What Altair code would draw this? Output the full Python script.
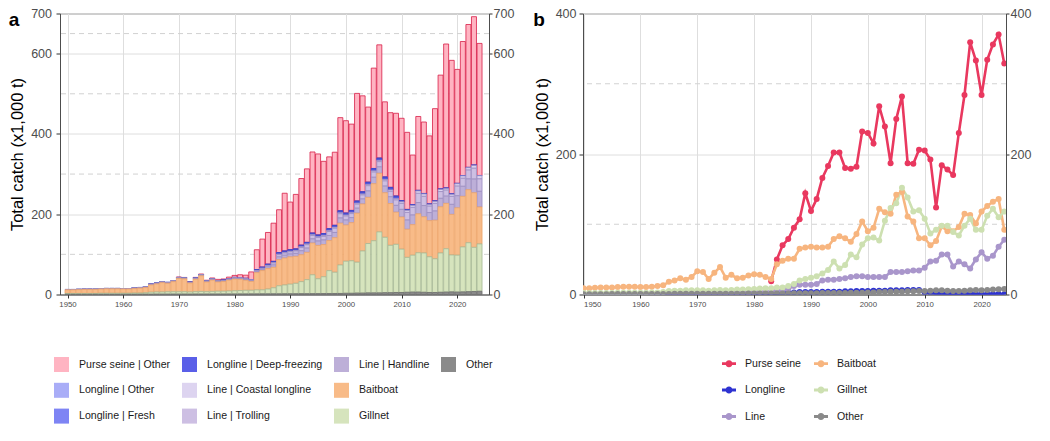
import altair as alt
import pandas as pd

years = list(range(1950, 2025))

# ---- catch by gear (x1,000 t), 1950..2024 ----
purse_seine_other = [
    0, 0, 0, 0, 0, 0, 0, 0, 0, 0,
    0, 0, 0, 0, 0, 0, 0, 0, 0, 0,
    1, 1, 1, 1.5, 1.5, 1.5, 2, 3, 3, 4,
    5, 7, 8, 19, 50, 70, 79, 95, 107, 144,
    119, 136, 166, 183, 202, 202, 180, 179, 182, 232,
    230, 215, 268, 239, 187, 250, 282, 187, 186, 206,
    205, 192, 124, 184, 178, 170, 230, 284, 359, 333,
    284, 334, 356, 370, 329]
longline_other = [
    0, 0, 0, 0, 0, 0, 0, 0, 0, 0,
    0.03, 0.03, 0.03, 0.03, 0.03, 0.03, 0.03, 0.03, 0.03, 0.03,
    0.08, 0.08, 0.08, 0.08, 0.08, 0.08, 0.08, 0.08, 0.08, 0.08,
    0.12, 0.12, 0.12, 0.12, 0.3, 0.35, 0.45, 0.45, 0.5, 0.5,
    0.5, 0.5, 0.6, 0.6, 0.6, 0.6, 0.65, 0.65, 0.75, 0.75,
    0.75, 0.8, 0.8, 0.8, 0.9, 0.9, 0.9, 0.95, 0.95, 0.95,
    0.45, 0.35, 0.25, 0.25, 0.2, 0.2, 0.15, 0.15, 0.15, 0.12,
    0.12, 0.12, 0.1, 0.1, 0.08]
longline_fresh = [
    0, 0, 0, 0, 0, 0, 0, 0, 0, 0,
    0.02, 0.02, 0.02, 0.02, 0.02, 0.02, 0.02, 0.02, 0.02, 0.02,
    0.06, 0.06, 0.06, 0.06, 0.06, 0.06, 0.06, 0.06, 0.06, 0.06,
    0.1, 0.1, 0.1, 0.1, 0.25, 0.3, 0.4, 0.4, 0.45, 0.45,
    0.45, 0.45, 0.5, 0.55, 0.55, 0.55, 0.6, 0.6, 0.7, 0.7,
    0.7, 0.75, 0.75, 0.75, 0.85, 0.85, 0.85, 0.9, 0.9, 0.9,
    0.4, 0.3, 0.2, 0.2, 0.18, 0.18, 0.14, 0.14, 0.14, 0.1,
    0.1, 0.1, 0.08, 0.08, 0.06]
longline_deep_freezing = [
    0.1, 0.1, 0.1, 0.1, 0.1, 0.1, 0.1, 0.1, 0.1, 0.1,
    0.15, 0.15, 0.15, 0.15, 0.15, 0.15, 0.15, 0.15, 0.15, 0.15,
    0.35, 0.35, 0.35, 0.35, 0.35, 0.35, 0.35, 0.35, 0.35, 0.35,
    0.55, 0.55, 0.55, 0.55, 1.4, 1.8, 2.1, 2.1, 2.5, 2.5,
    2.5, 2.5, 2.8, 2.8, 2.8, 2.8, 3.2, 3.2, 3.5, 3.5,
    3.5, 3.9, 3.9, 3.9, 4.2, 4.2, 4.2, 4.6, 4.6, 4.6,
    2.1, 1.8, 1, 1, 0.8, 0.8, 0.7, 0.7, 0.7, 0.55,
    0.55, 0.55, 0.4, 0.4, 0.35]
line_coastal_longline = [
    0.1, 0.1, 0.1, 0.1, 0.1, 0.1, 0.1, 0.1, 0.1, 0.1,
    0.1, 0.1, 0.2, 0.2, 0.2, 0.2, 0.2, 0.2, 0.2, 0.2,
    0.2, 0.2, 0.2, 0.3, 0.3, 0.3, 0.3, 0.3, 0.3, 0.3,
    0.3, 0.3, 0.4, 0.4, 0.5, 0.6, 0.8, 1.2, 1.4, 1.4,
    1.4, 1.5, 2, 2, 2, 2, 2.5, 2.5, 2.5, 2.5,
    2.5, 2.5, 2.5, 2.5, 3, 3, 3, 3.5, 3.5, 3.5,
    4, 5, 5, 6, 6, 4, 5, 5, 4, 5,
    6, 6, 6, 7, 8]
line_trolling = [
    0.4, 0.4, 0.4, 0.4, 0.4, 0.4, 0.4, 0.4, 0.4, 0.4,
    0.4, 0.4, 0.5, 0.5, 0.5, 0.8, 0.8, 0.8, 0.8, 0.8,
    0.8, 0.8, 0.8, 1, 1, 1, 1.2, 1.2, 1.2, 1.2,
    1.4, 1.4, 1.6, 1.6, 2, 2.4, 3.2, 4.8, 5.6, 5.6,
    5.6, 6, 8, 8.5, 8.5, 9, 9, 10, 10.5, 10.5,
    10, 10, 10, 10, 13, 13, 13, 13, 13.5, 13.5,
    15, 19, 19, 23, 23, 16, 19, 17, 15, 20,
    24, 20, 22, 27, 31]
line_handline = [
    0.5, 0.5, 0.5, 0.5, 0.5, 0.5, 0.5, 0.5, 0.5, 0.5,
    0.5, 0.5, 0.8, 0.8, 0.8, 1, 1, 1, 1, 1,
    1, 1, 1, 1.2, 1.2, 1.2, 1.5, 1.5, 1.5, 1.5,
    1.8, 1.8, 2, 2, 2.5, 3, 4, 6, 7, 7,
    7, 7.5, 10, 10.5, 10.5, 11, 11.5, 12.5, 13, 13,
    12.5, 12.5, 12.5, 12.5, 16, 16, 16, 16.5, 17, 17,
    19, 23, 24, 28, 28, 20, 23, 21, 18, 25,
    30, 25, 27, 34, 39]
baitboat = [
    9, 9, 9.5, 10, 10, 10, 10.5, 11, 11, 11,
    10.5, 10.5, 11, 12, 13, 18, 20, 23, 21, 25,
    33, 32, 22, 31, 39, 24, 28, 23, 24, 27,
    29, 28, 25, 22, 43, 48, 51, 51, 65, 67,
    68, 67, 67, 68, 79, 83, 80, 75, 86, 104,
    90, 95, 122, 117, 115, 142, 146, 111, 104, 80,
    80, 70, 76, 97, 90, 90, 96, 115, 113, 101,
    118, 126, 132, 136, 92]
gillnet = [
    2, 2, 2, 2, 2, 2, 2.5, 2.5, 2.5, 2.5,
    2.5, 2.5, 3, 3, 3.5, 5, 5.5, 5.5, 6, 6,
    6, 6, 5.5, 6, 6.5, 6, 6.5, 7, 7, 7.5,
    8, 8.5, 9, 9, 10, 10, 12, 15, 20, 22,
    24, 26, 30, 35, 47, 37, 42, 57, 53, 71,
    80, 81, 77, 105, 123, 130, 152, 138, 118, 120,
    108, 87, 92, 98, 98, 89, 84, 98, 108, 92,
    92, 112, 122, 110, 118]
other = [
    0.5, 0.5, 0.5, 0.5, 0.5, 0.6, 0.6, 0.6, 0.6, 0.6,
    0.7, 0.7, 0.7, 0.8, 0.8, 0.8, 0.9, 0.9, 0.9, 1,
    1, 1, 1, 1.1, 1.1, 1.1, 1.2, 1.2, 1.2, 1.3,
    1.3, 1.4, 1.4, 1.5, 1.5, 1.6, 1.6, 1.7, 1.7, 1.8,
    1.8, 1.9, 2, 2, 2.1, 2.2, 2.3, 2.4, 2.5, 2.6,
    3, 3, 3.5, 3.5, 4, 4, 4, 4.5, 4.5, 5,
    5, 5.5, 6, 6, 5.5, 5, 5, 5.5, 6, 6.5,
    6, 6.5, 7, 7.5, 8]

# series: (name, values, gear group, stack rank from bottom)
series = [
    ("Purse seine | Other", purse_seine_other, "Purse seine", 9),
    ("Longline | Other", longline_other, "Longline", 8),
    ("Longline | Fresh", longline_fresh, "Longline", 7),
    ("Longline | Deep-freezing", longline_deep_freezing, "Longline", 6),
    ("Line | Coastal longline", line_coastal_longline, "Line", 5),
    ("Line | Trolling", line_trolling, "Line", 4),
    ("Line | Handline", line_handline, "Line", 3),
    ("Baitboat", baitboat, "Baitboat", 2),
    ("Gillnet", gillnet, "Gillnet", 1),
    ("Other", other, "Other", 0),
]
for name, vals, _, _ in series:
    if len(vals) != len(years):
        raise ValueError(f"{name}: {len(vals)} values")

rows = []
for name, vals, grp, rank in series:
    for yr, v in zip(years, vals):
        rows.append({"year": yr, "series": name, "group": grp, "rank": rank, "catch": v})
df = pd.DataFrame(rows)

fill_colors = {
    "Purse seine | Other": "#FFB4C2", "Longline | Other": "#A9ADF7", "Longline | Fresh": "#7E84F4",
    "Longline | Deep-freezing": "#5A5FE8", "Line | Coastal longline": "#DDD4F0",
    "Line | Trolling": "#CDBFE3", "Line | Handline": "#BDAFD8", "Baitboat": "#F8BB88",
    "Gillnet": "#D6E4BD", "Other": "#8A8A8A", "_blank_": "rgba(0,0,0,0)"}
# legend fills column by column; one empty slot completes the 4 x 3 grid
legend_a_domain = [s[0] for s in series] + ["_blank_"]
legend_a_range = [fill_colors[k] for k in legend_a_domain]

groups = ["Purse seine", "Longline", "Line", "Baitboat", "Gillnet", "Other"]
outline_colors = ["#D81E47", "#4247C9", "#9D8EC2", "#EDA46A", "#A6B894", "#6F6F6F"]
line_colors = ["#E9385F", "#2E33D1", "#A996CB", "#F7B57F", "#CDE0B1", "#8A8A8A"]

decades = [1950, 1960, 1970, 1980, 1990, 2000, 2010, 2020]
ticks_a = [0, 200, 400, 600, 700]
ticks_b = [0, 200, 400]
dashed_a = [100, 300, 500, 650]
dashed_b = [100, 300]

FONT = "Liberation Sans"
H = 281


def x_axis():
    return alt.Axis(values=decades, format="d", title=None, labelFontSize=7.8, labelColor="#4D4D4D",
                    labelPadding=2, tickSize=3.5, tickColor="#333333", domainColor="#4D4D4D",
                    grid=True, gridColor="#DEDEDE", labelFont=FONT)


def left_axis(vals, lab_pad, title_pad):
    return alt.Axis(values=vals, title="Total catch (x1,000 t)", titleFontSize=16.5,
                    titleFontWeight="normal", titleColor="#000000", titlePadding=title_pad,
                    titleFont=FONT, labelFontSize=12.5, labelColor="#4D4D4D", labelPadding=lab_pad,
                    tickSize=4, tickColor="#333333", domainColor="#4D4D4D", grid=True,
                    gridColor="#DEDEDE", labelFont=FONT, labelOverlap=False)


def right_axis(vals):
    return alt.Axis(orient="right", values=vals, title=None, labelFontSize=12.5, labelColor="#4D4D4D",
                    labelPadding=1, tickSize=3, tickColor="#333333", domainColor="#4D4D4D",
                    grid=False, labelFont=FONT, labelOverlap=False)


# ---------------- panel a ----------------
xa = alt.X("year:Q", scale=alt.Scale(domain=[1949.55, 2024.8], nice=False, zero=False), axis=x_axis())
ya_scale = alt.Scale(domain=[0, 700], nice=False)

dash_a = alt.Chart(pd.DataFrame({"v": dashed_a})).mark_rule(
    strokeDash=[5, 4], color="#D2D2D2", strokeWidth=1).encode(
    y=alt.Y("v:Q", scale=ya_scale, axis=right_axis(ticks_a)))

bars = alt.Chart(df).transform_filter("datum.catch > 0").mark_bar(size=5, strokeWidth=0.8).encode(
    x=xa,
    y=alt.Y("catch:Q", stack="zero", scale=ya_scale, axis=left_axis(ticks_a, 4.5, 5)),
    fill=alt.Fill("series:N", scale=alt.Scale(domain=legend_a_domain, range=legend_a_range),
                  legend=alt.Legend(orient="none", legendX=-6, legendY=343.5, columns=4, title=None,
                                    symbolType="square", symbolSize=225, symbolStrokeWidth=0,
                                    labelFontSize=10.6, labelFont=FONT, labelColor="#1A1A1A",
                                    labelOffset=10, columnPadding=11, rowPadding=10.8, padding=0,
                                    gridAlign="each", labelLimit=0,
                                    labelExpr="datum.value == '_blank_' ? '' : datum.label")),
    stroke=alt.Stroke("group:N", scale=alt.Scale(domain=groups, range=outline_colors), legend=None),
    order=alt.Order("rank:Q"),
)

tag_a = alt.Chart(pd.DataFrame({"t": ["a"]})).mark_text(
    fontSize=19, fontWeight="bold", font=FONT, align="center", baseline="alphabetic", color="#000000"
).encode(text="t:N", x=alt.value(-46), y=alt.value(12))

panel_a = alt.layer(dash_a, bars, tag_a).resolve_axis(y="independent").properties(width=429, height=H)

# ---------------- panel b ----------------
xb = alt.X("year:Q", scale=alt.Scale(domain=[1949.9, 2024.3], nice=False, zero=False), axis=x_axis())
yb_scale = alt.Scale(domain=[0, 400], nice=False)

dash_b = alt.Chart(pd.DataFrame({"v": dashed_b})).mark_rule(
    strokeDash=[5, 4], color="#D2D2D2", strokeWidth=1).encode(
    y=alt.Y("v:Q", scale=yb_scale, axis=right_axis(ticks_b)))

agg = alt.Chart(df).transform_aggregate(
    total="sum(catch)", groupby=["year", "group"]
).transform_filter("datum.group != 'Purse seine' || datum.year >= 1983")

glyph = "M-1,-0.2H1V0.2H-1Z M-0.5,0A0.5,0.5,0,1,1,0.5,0A0.5,0.5,0,1,1,-0.5,0Z"

lines = agg.mark_line(strokeWidth=2.6, clip=True).encode(
    x=xb,
    y=alt.Y("total:Q", scale=yb_scale, axis=left_axis(ticks_b, 3, 5)),
    color=alt.Color("group:N", scale=alt.Scale(domain=groups[::-1], range=line_colors[::-1]),
                    legend=None),
)
pts = agg.mark_point(filled=True, size=36, strokeWidth=0, opacity=1, clip=True).encode(
    x=xb,
    y=alt.Y("total:Q", scale=yb_scale, axis=None),
    fill=alt.Fill("group:N", scale=alt.Scale(domain=groups, range=line_colors),
                  legend=alt.Legend(orient="none", legendX=139, legendY=343, columns=2, title=None,
                                    symbolType=glyph, symbolSize=196, symbolStrokeWidth=0,
                                    symbolOpacity=1, labelFontSize=10.6, labelFont=FONT,
                                    labelColor="#1A1A1A", labelOffset=9, columnPadding=13,
                                    rowPadding=13.5, padding=0, gridAlign="each", labelLimit=0)),
)

tag_b = alt.Chart(pd.DataFrame({"t": ["b"]})).mark_text(
    fontSize=19, fontWeight="bold", font=FONT, align="center", baseline="alphabetic", color="#000000"
).encode(text="t:N", x=alt.value(-44), y=alt.value(12))

panel_b = alt.layer(dash_b, lines, pts, tag_b).resolve_axis(y="independent").properties(width=423, height=H)

chart = alt.hconcat(panel_a, panel_b, spacing=17).resolve_scale(
    x="independent", y="independent", fill="independent", stroke="independent", color="independent"
).resolve_legend(fill="independent", stroke="independent", color="independent").properties(
    padding={"left": 0, "top": -1.5, "right": 0, "bottom": 0}
).configure(font=FONT, background="white").configure_view(stroke="#7F7F7F", strokeWidth=1)

chart.save("out.html", embed_options={"renderer": "svg", "actions": False})
